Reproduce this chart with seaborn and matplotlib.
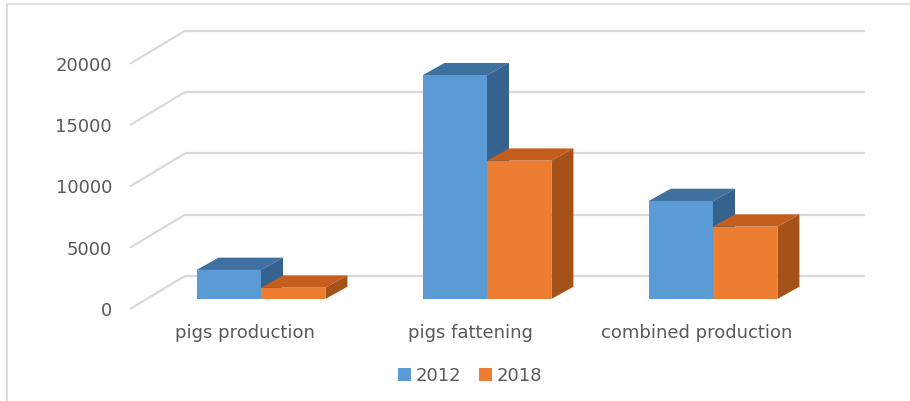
import matplotlib
matplotlib.use("Agg")
import matplotlib.pyplot as plt
import matplotlib.patches as mpatches
import seaborn as sns
import pandas as pd

# ---- data ----
categories = ["pigs production", "pigs fattening", "combined production"]
years = ["2012", "2018"]
values_2012 = [2370, 18250, 7990]
values_2018 = [920, 11280, 5900]
yticks = [0, 5000, 10000, 15000, 20000]

df = pd.DataFrame({
    "category": categories * 2,
    "year": [years[0]] * 3 + [years[1]] * 3,
    "value": values_2012 + values_2018,
})

# ---- style ----
W, H = 910, 401
front_cols = ["#5B9BD5", "#ED7D31"]
top_cols = ["#3E70A0", "#C55E1C"]
side_cols = ["#35628E", "#A5521A"]
grid_col = "#D9D9D9"
text_col = "#595959"
fs = 13

sns.set_theme(style="white")
plt.rcParams["font.family"] = ["DejaVu Sans"]

fig = plt.figure(figsize=(W / 100, H / 100), dpi=100)
fig.patch.set_facecolor("white")

# axes in "front plane" coordinates
ax_l, ax_r, ax_b, ax_t = 130, 880, 309, 30
ax = fig.add_axes([ax_l / W, (H - ax_b) / H, (ax_r - ax_l) / W, (ax_b - ax_t) / H])

px_per_cat = 226.0
cat0_px = 244.5
px_per_val = 61.3 / 5000.0

sns.barplot(data=df, x="category", y="value", hue="year", order=categories,
            hue_order=years, palette=front_cols, width=0.57, gap=0,
            errorbar=None, saturation=1, ax=ax, linewidth=0, edgecolor="none")

xlo = (ax_l - cat0_px) / px_per_cat
xhi = (ax_r - cat0_px) / px_per_cat
ax.set_xlim(xlo, xhi)
ax.set_ylim(0, (ax_b - ax_t) / px_per_val)

def px2x(p):
    return p / px_per_cat

def px2y(p):
    return p / px_per_val

# plane offsets (pixels)
bar_dx, bar_dy = px2x(16.5), px2y(10)     # front plane -> bar front face
dep_dx, dep_dy = px2x(22), px2y(12.3)     # bar depth
back_dx, back_dy = px2x(55), px2y(33)     # front plane -> back wall

# back wall gridlines and side wall lines
g_x0 = xlo
g_x1 = (810 - cat0_px) / px_per_cat
for v in yticks:
    ax.plot([g_x0 + back_dx, g_x1 + back_dx], [v + back_dy, v + back_dy],
            color=grid_col, lw=1.6, zorder=0, clip_on=False, solid_capstyle="butt")
    ax.plot([g_x0, g_x0 + back_dx], [v, v + back_dy],
            color=grid_col, lw=1.6, zorder=0, clip_on=False, solid_capstyle="butt")

# shift bars & add 3D faces
for h, cont in enumerate(ax.containers):
    for rect in cont:
        rect.set_x(rect.get_x() + bar_dx)
        rect.set_y(rect.get_y() + bar_dy)
        rect.set_zorder(3 + 2 * h)
        rect.set_clip_on(False)
        x0 = rect.get_x()
        x1 = x0 + rect.get_width()
        y0 = rect.get_y()
        y1 = y0 + rect.get_height()
        top = mpatches.Polygon([(x0, y1), (x1, y1), (x1 + dep_dx, y1 + dep_dy),
                                (x0 + dep_dx, y1 + dep_dy)], closed=True,
                               facecolor=top_cols[h], edgecolor="none",
                               zorder=2 + 2 * h, clip_on=False)
        side = mpatches.Polygon([(x1, y0), (x1 + dep_dx, y0 + dep_dy),
                                 (x1 + dep_dx, y1 + dep_dy), (x1, y1)], closed=True,
                                facecolor=side_cols[h], edgecolor="none",
                                zorder=2 + 2 * h, clip_on=False)
        ax.add_patch(top)
        ax.add_patch(side)

ax.set_yticks(yticks)
ax.set_yticklabels([str(v) for v in yticks])
ax.set_xlabel("")
ax.set_ylabel("")
ax.tick_params(axis="y", length=0, pad=13, labelsize=fs, labelcolor=text_col)
ax.tick_params(axis="x", length=0, pad=11, labelsize=fs, labelcolor=text_col)
for s in ax.spines.values():
    s.set_visible(False)
ax.set_facecolor("none")
ax.grid(False)

sns.move_legend(ax, "center", bbox_to_anchor=(470 / W, (H - 376) / H),
                bbox_transform=fig.transFigure, ncol=2, frameon=False, title=None,
                handlelength=0.7, handleheight=0.7, handletextpad=0.25,
                columnspacing=1.0, fontsize=fs, labelcolor=text_col)

# outer chart border
fig.patches.append(mpatches.Rectangle((7 / W, -0.05), 1.1, 1.05 - 4 / H,
                                      transform=fig.transFigure, fill=False,
                                      edgecolor=grid_col, lw=1.2))

fig.savefig("out.png", dpi=100)
